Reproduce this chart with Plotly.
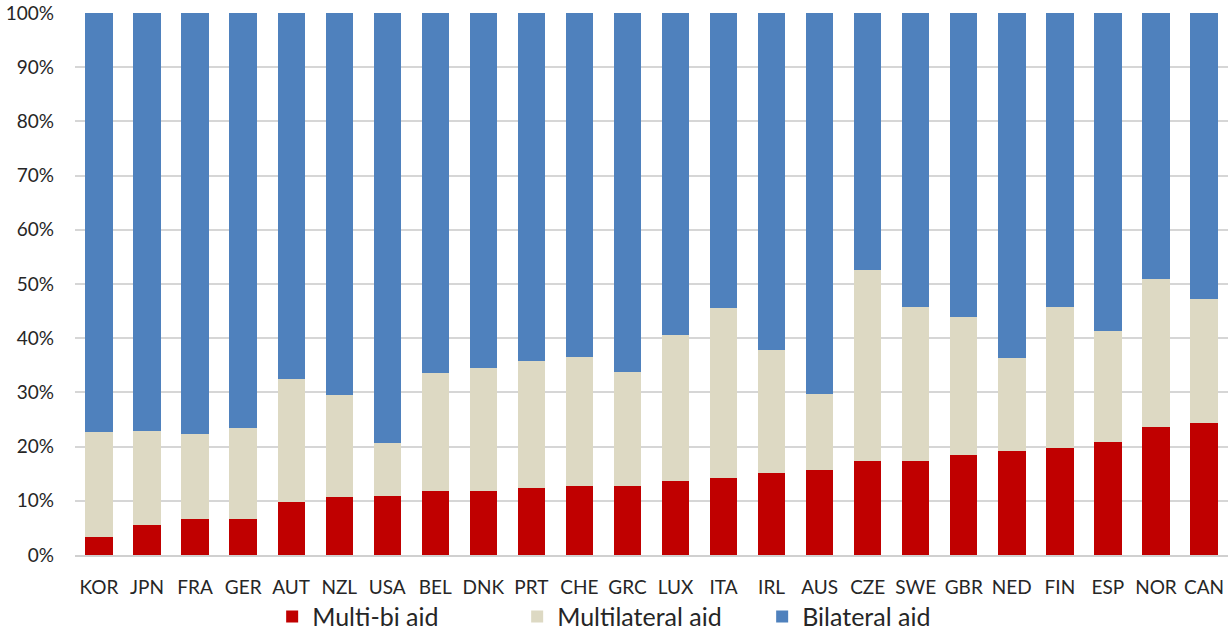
import plotly.graph_objects as go

# Share of total aid (%) by donor
countries = ["KOR", "JPN", "FRA", "GER", "AUT", "NZL", "USA", "BEL", "DNK", "PRT",
             "CHE", "GRC", "LUX", "ITA", "IRL", "AUS", "CZE", "SWE", "GBR", "NED",
             "FIN", "ESP", "NOR", "CAN"]

multi_bi = [3.3, 5.5, 6.6, 6.7, 9.7, 10.7, 10.9, 11.8, 11.8, 12.3,
            12.7, 12.7, 13.6, 14.2, 15.2, 15.6, 17.3, 17.3, 18.5, 19.2,
            19.8, 20.8, 23.6, 24.3]

multilateral = [19.4, 17.4, 15.8, 16.8, 22.7, 18.8, 9.8, 21.7, 22.7, 23.5,
                23.9, 21.1, 26.9, 31.4, 22.6, 14.1, 35.2, 28.5, 25.4, 17.2,
                26.0, 20.6, 27.3, 22.9]

bilateral = [77.3, 77.1, 77.6, 76.5, 67.6, 70.5, 79.3, 66.5, 65.5, 64.2,
             63.4, 66.2, 59.5, 54.4, 62.2, 70.3, 47.5, 54.2, 56.1, 63.6,
             54.2, 58.6, 49.1, 52.8]

y_ticks = [0, 10, 20, 30, 40, 50, 60, 70, 80, 90, 100]

FONT = "Lato, Calibri, sans-serif"
TEXT = "#262626"

fig = go.Figure()
fig.add_trace(go.Bar(name="Multi-bi aid", x=countries, y=multi_bi,
                     marker_color="#C00000", marker_line_width=0))
fig.add_trace(go.Bar(name="Multilateral aid", x=countries, y=multilateral,
                     marker_color="#DDD9C3", marker_line_width=0))
fig.add_trace(go.Bar(name="Bilateral aid", x=countries, y=bilateral,
                     marker_color="#4F81BD", marker_line_width=0))

fig.update_layout(
    barmode="stack",
    bargap=0.43,
    width=1228,
    height=632,
    margin={"l": 75, "r": 0, "t": 13, "b": 77},
    plot_bgcolor="white",
    paper_bgcolor="white",
    font={"family": FONT, "color": TEXT, "size": 19},
    showlegend=True,
    legend={
        "orientation": "h",
        "x": 0.171, "xanchor": "left",
        "yref": "container",
        "y": 0.024, "yanchor": "middle",
        "font": {"size": 25, "family": FONT, "color": TEXT},
        "traceorder": "normal",
        "itemwidth": 30,
        "entrywidth": 200,
    },
)
fig.update_xaxes(
    automargin=False,
    showgrid=False,
    showline=True,
    linecolor="#d0d0d0",
    linewidth=1.5,
    ticks="",
    tickfont={"size": 19},
    ticklabelstandoff=14,
)
fig.update_yaxes(
    automargin=False,
    range=[0, 100],
    tickvals=y_ticks,
    ticktext=[f"{v}%" for v in y_ticks],
    showgrid=True,
    gridcolor="#d6d6d6",
    gridwidth=1.5,
    zeroline=False,
    ticks="",
    tickfont={"size": 19},
    ticklabelstandoff=20,
)

# drop the browser's default 8px body margin so the figure fills the window
fig.write_html(
    "out.html",
    config={"displayModeBar": False},
    post_script="document.body.style.margin='0';",
)
